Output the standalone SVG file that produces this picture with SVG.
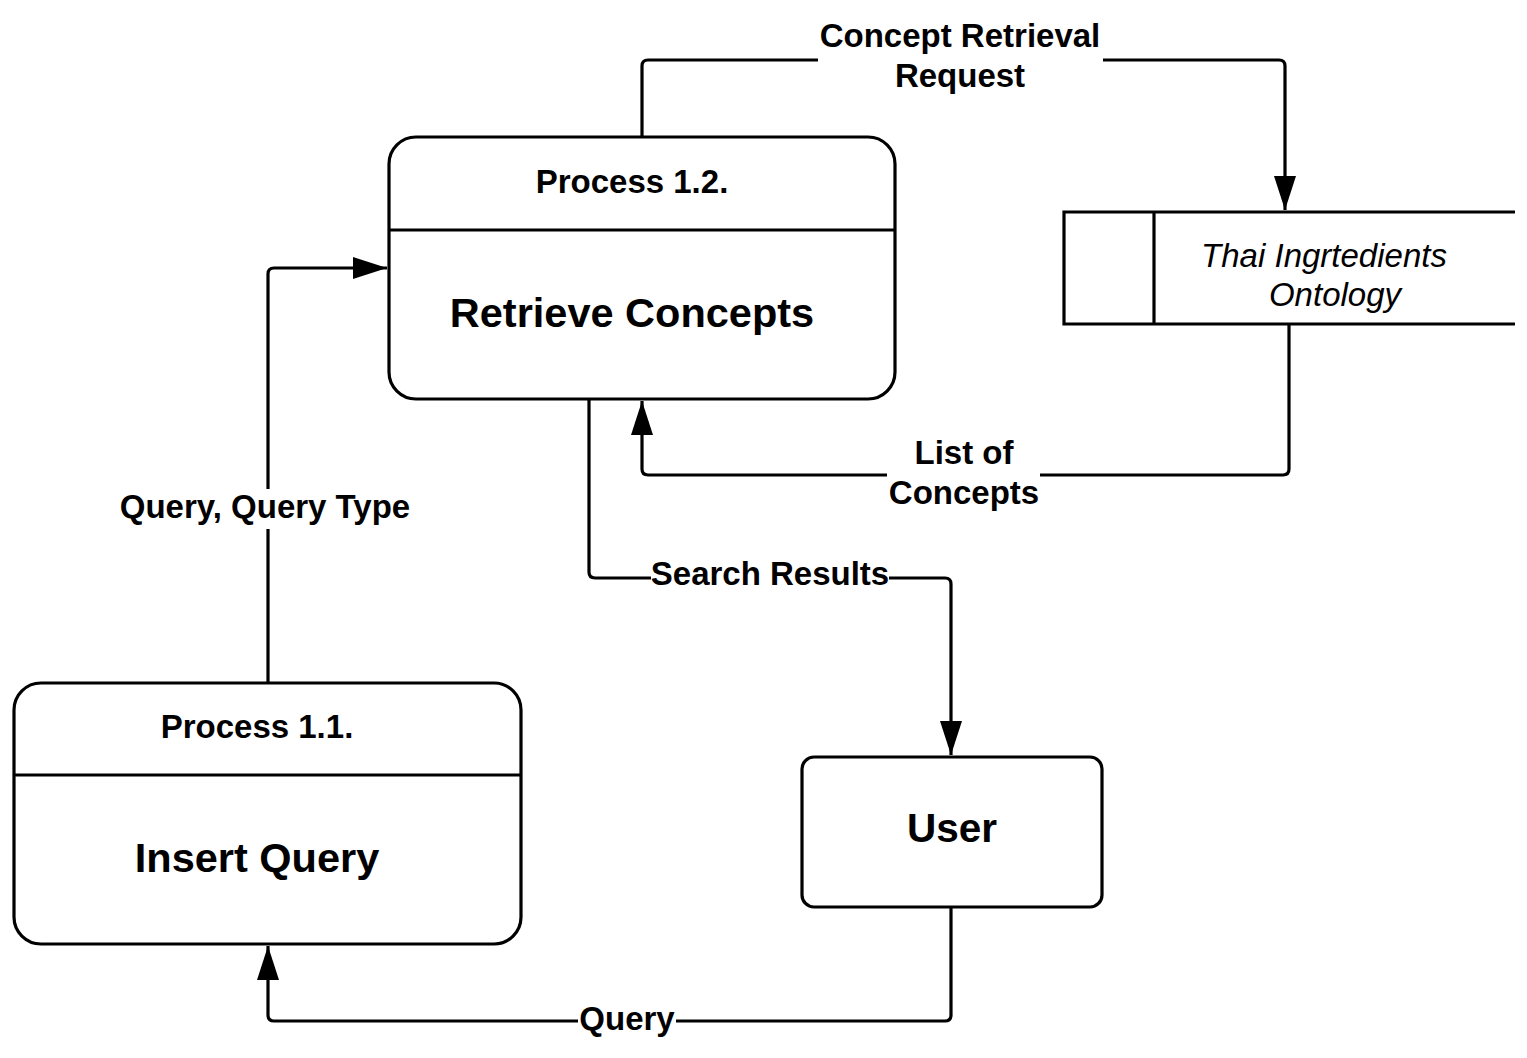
<svg xmlns="http://www.w3.org/2000/svg" width="1527" height="1058" viewBox="0 0 1527 1058">
<style>
.box{fill:#fff;stroke:#000;stroke-width:3.2}
.ln{fill:none;stroke:#000;stroke-width:3.2}
.c{fill:none;stroke:#000;stroke-width:3.2;stroke-linejoin:round}
.t{font-family:"Liberation Sans",Arial,sans-serif;font-weight:bold;fill:#000;text-anchor:middle}
.lbl{font-size:33px}
.big{font-size:41.5px}
.it{font-family:"Liberation Sans",Arial,sans-serif;font-style:italic;font-size:33px;fill:#000;text-anchor:middle}
.bg{fill:#fff}
</style>
<defs>
<marker id="arr" viewBox="0 0 34 22" refX="34" refY="11" markerWidth="34" markerHeight="22" markerUnits="userSpaceOnUse" orient="auto">
<path d="M0,0 L34,11 L0,22 Z" fill="#000"/>
</marker>
</defs>
<rect width="1527" height="1058" fill="#fff"/>
<g id="connectors">
<path class="c" d="M642,137 V66 Q642,60 648,60 H1279 Q1285,60 1285,66 V210" marker-end="url(#arr)"/>
<path class="c" d="M1289,325 V469 Q1289,475 1283,475 H648 Q642,475 642,469 V401" marker-end="url(#arr)"/>
<path class="c" d="M589,400 V572 Q589,578 595,578 H945 Q951,578 951,584 V755" marker-end="url(#arr)"/>
<path class="c" d="M268,683 V274 Q268,268 274,268 H387" marker-end="url(#arr)"/>
<path class="c" d="M951,908 V1015 Q951,1021 945,1021 H274 Q268,1021 268,1015 V946" marker-end="url(#arr)"/>
<rect class="bg" x="818" y="18" width="285" height="80"/>
<rect class="bg" x="887" y="432" width="153" height="82"/>
<rect class="bg" x="651" y="558" width="238" height="36"/>
<rect class="bg" x="116" y="489" width="299" height="40"/>
<rect class="bg" x="578" y="1003" width="98" height="36"/>
<text class="t lbl" x="960" y="47">Concept Retrieval</text>
<text class="t lbl" x="960" y="87">Request</text>
<text class="t lbl" x="964" y="464">List of</text>
<text class="t lbl" x="964" y="504">Concepts</text>
<text class="t lbl" x="770" y="585">Search Results</text>
<text class="t lbl" x="265" y="518">Query, Query Type</text>
<text class="t lbl" x="627" y="1030">Query</text>
</g>
<g id="process-1-2">
<rect class="box" x="389" y="137" width="506" height="262" rx="27" ry="27"/>
<line class="ln" x1="389" y1="230" x2="895" y2="230"/>
<text class="t lbl" x="632" y="193">Process 1.2.</text>
<text class="t big" x="632" y="327">Retrieve Concepts</text>
</g>
<g id="process-1-1">
<rect class="box" x="14" y="683" width="507" height="261" rx="27" ry="27"/>
<line class="ln" x1="14" y1="775" x2="521" y2="775"/>
<text class="t lbl" x="257" y="738">Process 1.1.</text>
<text class="t big" x="257" y="872">Insert Query</text>
</g>
<g id="user">
<rect class="box" x="802" y="757" width="300" height="150" rx="12" ry="12"/>
<text class="t big" x="952" y="842" style="font-size:40.5px">User</text>
</g>
<g id="data-store">
<rect x="1064" y="212" width="463" height="112" fill="#fff"/>
<path class="ln" d="M1515,212 H1064 V324 H1515"/>
<line class="ln" x1="1154" y1="212" x2="1154" y2="324"/>
<text class="it" x="1324" y="267">Thai Ingrtedients</text>
<text class="it" x="1335" y="306">Ontology</text>
</g>
</svg>
